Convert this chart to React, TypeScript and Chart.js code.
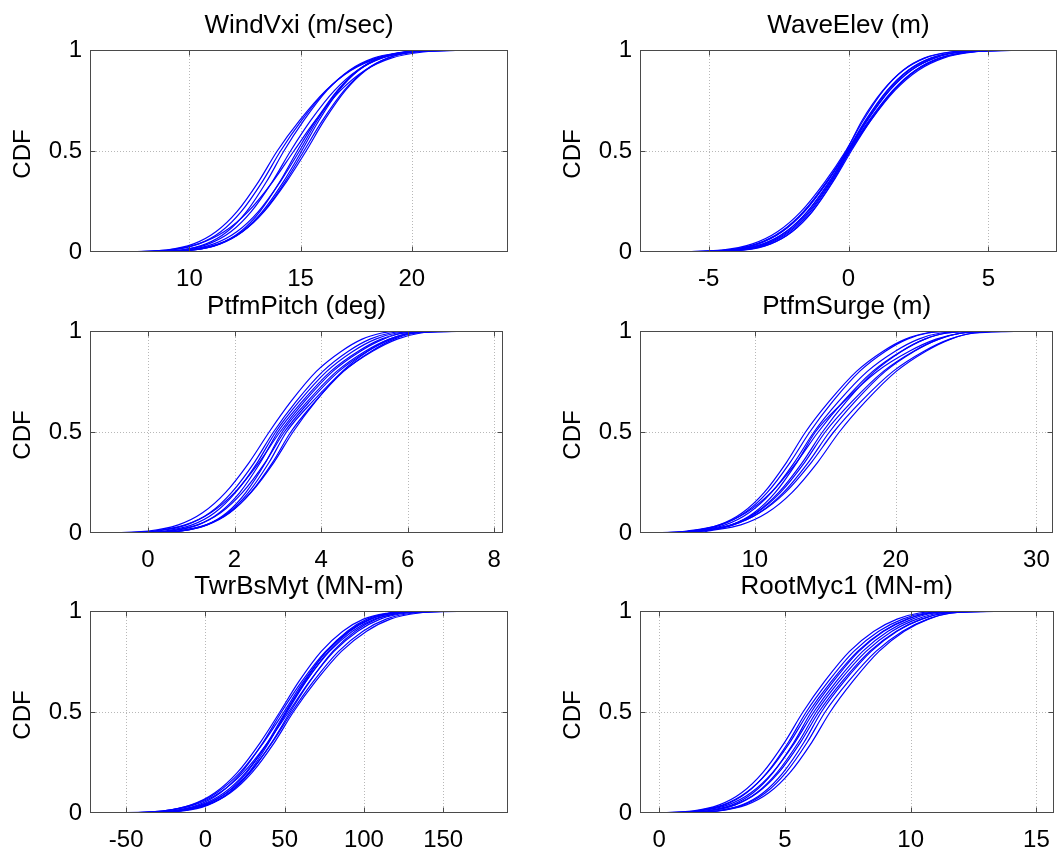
import React, { useEffect, useRef } from "react";
import { Chart, registerables } from "chart.js";

Chart.register(...registerables);

// CDF probability levels at which each curve's x value (quantile) was read
const CDF_LEVELS = [0, 0.01, 0.04, 0.1, 0.2, 0.35, 0.5, 0.65, 0.8, 0.9, 0.96, 0.99, 1];
const Y_TICKS = [0, 0.5, 1];

// WindVxi (m/sec)
const WIND_TICKS = [10, 15, 20];
const WIND_CURVES = [
  [6.6, 8.95, 10.19, 11.19, 12.14, 13.12, 13.95, 14.95, 16.14, 17.28, 18.5, 20.0, 21.5],
  [7.2, 9.22, 10.42, 11.41, 12.33, 13.29, 14.1, 15.04, 16.16, 17.24, 18.39, 19.8, 20.6],
  [7.0, 9.6, 10.75, 11.69, 12.57, 13.48, 14.25, 15.14, 16.19, 17.2, 18.28, 19.6, 20.2],
  [7.5, 9.67, 10.87, 11.86, 12.78, 13.74, 14.55, 15.45, 16.53, 17.56, 18.66, 20.02, 21.0],
  [6.2, 9.0, 10.41, 11.56, 12.64, 13.76, 14.7, 15.66, 16.8, 17.9, 19.08, 20.52, 22.3],
  [7.8, 10.2, 11.35, 12.29, 13.17, 14.08, 14.85, 15.68, 16.66, 17.61, 18.61, 19.85, 20.4],
  [7.0, 9.83, 11.1, 12.13, 13.1, 14.1, 14.95, 15.74, 16.68, 17.58, 18.54, 19.72, 23.9],
  [8.0, 10.17, 11.37, 12.36, 13.28, 14.24, 15.05, 15.82, 16.73, 17.61, 18.55, 19.7, 20.8],
  [7.4, 10.15, 11.39, 12.39, 13.34, 14.32, 15.15, 15.98, 16.96, 17.91, 18.91, 20.15, 22.8],
  [8.2, 10.02, 11.31, 12.37, 13.36, 14.38, 15.25, 16.06, 17.02, 17.94, 18.93, 20.13, 23.0],
];

// WaveElev (m)
const WAVE_TICKS = [-5, 0, 5];
const WAVE_CURVES = [
  [-7.4, -4.35, -3.29, -2.42, -1.61, -0.76, -0.05, 0.6, 1.38, 2.13, 2.93, 3.9, 5.6],
  [-6.2, -4.27, -3.23, -2.39, -1.6, -0.77, -0.08, 0.48, 1.23, 1.96, 2.73, 3.68, 5.2],
  [-5.5, -3.93, -2.96, -2.16, -1.41, -0.63, 0.02, 0.73, 1.58, 2.39, 3.26, 4.32, 6.4],
  [-5.0, -3.74, -2.79, -2.02, -1.29, -0.54, 0.1, 0.79, 1.62, 2.41, 3.25, 4.29, 5.3],
  [-6.8, -4.52, -3.43, -2.54, -1.7, -0.83, -0.1, 0.52, 1.25, 1.95, 2.7, 3.62, 5.0],
  [-5.8, -4.07, -3.06, -2.24, -1.47, -0.67, 0.0, 0.67, 1.47, 2.24, 3.06, 4.07, 7.4],
  [-6.5, -3.86, -2.89, -2.1, -1.36, -0.6, 0.05, 0.76, 1.61, 2.42, 3.29, 4.35, 6.0],
  [-5.3, -4.02, -3.03, -2.23, -1.47, -0.68, -0.02, 0.63, 1.41, 2.16, 2.96, 3.93, 5.5],
  [-7.0, -4.27, -3.23, -2.37, -1.57, -0.74, -0.04, 0.65, 1.46, 2.24, 3.08, 4.1, 6.8],
  [-6.0, -3.71, -2.78, -2.02, -1.3, -0.56, 0.06, 0.79, 1.66, 2.5, 3.39, 4.48, 5.8],
];

// PtfmPitch (deg)
const PITCH_TICKS = [0, 2, 4, 6, 8];
const PITCH_CURVES = [
  [-1.3, 0.01, 0.7, 1.26, 1.79, 2.34, 2.8, 3.3, 3.89, 4.47, 4.95, 5.4, 5.7],
  [-0.8, 0.23, 0.89, 1.43, 1.93, 2.46, 2.9, 3.42, 4.04, 4.63, 5.13, 5.6, 6.2],
  [-0.5, 0.39, 1.02, 1.54, 2.02, 2.53, 2.95, 3.49, 4.13, 4.74, 5.26, 5.75, 6.6],
  [0.0, 0.56, 1.16, 1.65, 2.12, 2.6, 3.0, 3.56, 4.22, 4.86, 5.39, 5.9, 7.0],
  [-1.0, 0.14, 0.86, 1.45, 2.0, 2.57, 3.05, 3.61, 4.27, 4.91, 5.44, 5.95, 8.1],
  [0.2, 0.77, 1.35, 1.82, 2.26, 2.72, 3.1, 3.68, 4.36, 5.02, 5.58, 6.1, 7.3],
  [-0.3, 0.48, 1.14, 1.68, 2.18, 2.71, 3.15, 3.73, 4.41, 5.07, 5.63, 6.15, 7.8],
  [0.1, 0.76, 1.36, 1.85, 2.32, 2.8, 3.2, 3.8, 4.51, 5.19, 5.76, 6.3, 6.9],
  [-0.6, 0.74, 1.37, 1.89, 2.37, 2.88, 3.3, 3.86, 4.52, 5.16, 5.69, 6.2, 7.5],
  [0.15, 0.68, 1.34, 1.88, 2.38, 2.91, 3.35, 3.87, 4.49, 5.08, 5.58, 6.05, 6.5],
];

// PtfmSurge (m)
const SURGE_TICKS = [10, 20, 30];
const SURGE_CURVES = [
  [1.9, 5.46, 7.47, 9.11, 10.65, 12.25, 13.6, 15.26, 17.22, 19.11, 20.7, 22.2, 23.5],
  [3.0, 5.53, 7.6, 9.28, 10.87, 12.51, 13.9, 15.52, 17.44, 19.28, 20.83, 22.3, 24.2],
  [4.5, 5.83, 7.9, 9.58, 11.17, 12.81, 14.2, 15.93, 17.99, 19.97, 21.63, 23.2, 26.0],
  [2.5, 5.2, 7.5, 9.37, 11.13, 12.96, 14.5, 16.27, 18.37, 20.4, 22.09, 23.7, 27.5],
  [5.0, 6.19, 8.32, 10.06, 11.68, 13.38, 14.8, 16.49, 18.5, 20.44, 22.06, 23.6, 25.0],
  [3.5, 6.16, 8.35, 10.13, 11.8, 13.54, 15.0, 16.89, 19.13, 21.28, 23.09, 24.8, 28.6],
  [5.5, 6.23, 8.47, 10.3, 12.02, 13.8, 15.3, 17.11, 19.26, 21.33, 23.06, 24.7, 26.5],
  [4.0, 6.06, 8.42, 10.34, 12.15, 14.02, 15.6, 17.53, 19.81, 22.01, 23.85, 25.6, 31.0],
  [6.0, 6.7, 9.0, 10.87, 12.63, 14.46, 16.0, 17.85, 20.04, 22.15, 23.92, 25.6, 29.5],
  [4.8, 6.39, 8.35, 9.94, 11.44, 12.99, 14.3, 16.3, 18.68, 20.97, 22.88, 24.7, 27.0],
];

// TwrBsMyt (MN-m)
const TWR_TICKS = [-50, 0, 50, 100, 150];
const TWR_CURVES = [
  [-72, -27.4, -9.0, 6.0, 20.1, 34.7, 47, 58.9, 73.1, 86.7, 99.7, 115.2, 128],
  [-55, -21.8, -4.5, 9.5, 22.7, 36.4, 48, 60.7, 75.8, 90.3, 104.1, 120.6, 140],
  [-60, -27.3, -8.3, 7.2, 21.7, 36.8, 49.5, 61.8, 76.4, 90.5, 103.9, 119.9, 150],
  [-45, -17.0, -0.3, 13.3, 26.1, 39.3, 50.5, 63.2, 78.3, 92.8, 106.6, 123.1, 135],
  [-65, -20.6, -2.8, 11.8, 25.4, 39.6, 51.5, 63.4, 77.6, 91.2, 104.2, 119.7, 175],
  [-50, -26.6, -7.0, 8.9, 23.9, 39.4, 52.5, 65.6, 81.1, 96.1, 110.3, 127.3, 160],
  [-40, -16.3, 1.0, 15.0, 28.2, 41.9, 53.5, 65.8, 80.4, 94.5, 107.9, 123.9, 145],
  [-58, -19.9, -1.5, 13.5, 27.6, 42.2, 54.5, 68.0, 84.0, 99.4, 114.0, 131.5, 170],
  [-42, -16.6, 1.2, 15.8, 29.4, 43.6, 55.5, 69.4, 85.8, 101.7, 116.7, 134.7, 155],
  [-48, -14.1, 2.0, 15.1, 27.4, 40.2, 51, 62.6, 76.3, 89.5, 102.0, 117.0, 132],
];

// RootMyc1 (MN-m)
const ROOT_TICKS = [0, 5, 10, 15];
const ROOT_CURVES = [
  [-0.7, 1.3, 2.39, 3.28, 4.12, 4.99, 5.72, 6.57, 7.57, 8.54, 9.46, 10.34, 11.6],
  [0.0, 1.55, 2.61, 3.48, 4.29, 5.14, 5.85, 6.72, 7.74, 8.73, 9.68, 10.58, 12.2],
  [-0.3, 1.41, 2.54, 3.45, 4.31, 5.2, 5.95, 6.84, 7.89, 8.9, 9.86, 10.78, 13.0],
  [0.4, 1.86, 2.9, 3.74, 4.53, 5.36, 6.05, 6.92, 7.94, 8.93, 9.88, 10.78, 12.5],
  [0.2, 1.61, 2.74, 3.65, 4.51, 5.4, 6.15, 7.04, 8.09, 9.1, 10.06, 10.98, 15.2],
  [0.6, 1.95, 3.01, 3.88, 4.69, 5.54, 6.25, 7.15, 8.23, 9.26, 10.25, 11.19, 13.8],
  [-0.2, 1.93, 3.02, 3.91, 4.75, 5.62, 6.35, 7.27, 8.37, 9.43, 10.43, 11.39, 14.5],
  [0.8, 2.26, 3.3, 4.14, 4.93, 5.76, 6.45, 7.35, 8.43, 9.46, 10.45, 11.39, 12.8],
  [0.5, 2.3, 3.36, 4.23, 5.04, 5.89, 6.6, 7.52, 8.62, 9.68, 10.68, 11.64, 14.0],
  [0.7, 2.38, 3.47, 4.36, 5.2, 6.07, 6.8, 7.69, 8.74, 9.75, 10.71, 11.63, 13.3],
];

const FONT = "'Liberation Sans', Arial, Helvetica, sans-serif";
const PAD_L = 90;
const PAD_T = 50;
const PAD_R = 6;
const PAD_B = 45;
const PLOT_H = 202;

type PanelSpec = {
  title: string;
  curves: number[][];
  ticks: number[];
  xMin: number;
  xMax: number;
  left: number;
  top: number;
  width: number;
};

const PANELS: PanelSpec[] = [
  { title: "WindVxi (m/sec)", curves: WIND_CURVES, ticks: WIND_TICKS, xMin: 5.53, xMax: 24.33, left: 90, top: 50, width: 418 },
  { title: "WaveElev (m)", curves: WAVE_CURVES, ticks: WAVE_TICKS, xMin: -7.45, xMax: 7.45, left: 640, top: 50, width: 417 },
  { title: "PtfmPitch (deg)", curves: PITCH_CURVES, ticks: PITCH_TICKS, xMin: -1.34, xMax: 8.21, left: 90, top: 331, width: 418 },
  { title: "PtfmSurge (m)", curves: SURGE_CURVES, ticks: SURGE_TICKS, xMin: 1.84, xMax: 31.2, left: 640, top: 331, width: 417 },
  { title: "TwrBsMyt (MN-m)", curves: TWR_CURVES, ticks: TWR_TICKS, xMin: -72.8, xMax: 190.9, left: 90, top: 611, width: 418 },
  { title: "RootMyc1 (MN-m)", curves: ROOT_CURVES, ticks: ROOT_TICKS, xMin: -0.76, xMax: 15.68, left: 640, top: 611, width: 417 },
];

const framePlugin = {
  id: "matlabFrame",
  beforeDatasetsDraw(chart: any) {
    const { ctx, chartArea: a, scales } = chart;
    const x = scales.x;
    const y = scales.y;
    ctx.save();
    ctx.strokeStyle = "#b8b8b8";
    ctx.lineWidth = 1;
    ctx.setLineDash([1, 2]);
    ctx.beginPath();
    for (const t of x.ticks) {
      const px = Math.round(x.getPixelForValue(t.value)) + 0.5;
      if (px > a.left + 1 && px < a.right - 1) {
        ctx.moveTo(px, a.top);
        ctx.lineTo(px, a.bottom);
      }
    }
    for (const t of y.ticks) {
      const py = Math.round(y.getPixelForValue(t.value)) + 0.5;
      if (py > a.top + 1 && py < a.bottom - 1) {
        ctx.moveTo(a.left, py);
        ctx.lineTo(a.right, py);
      }
    }
    ctx.stroke();
    ctx.restore();
  },
  afterDatasetsDraw(chart: any) {
    const { ctx, chartArea: a, scales } = chart;
    const x = scales.x;
    const y = scales.y;
    const l = Math.round(a.left) + 0.5;
    const r = Math.round(a.right) - 0.5;
    const t = Math.round(a.top) + 0.5;
    const b = Math.round(a.bottom) - 0.5;
    ctx.save();
    ctx.strokeStyle = "#4a4a4a";
    ctx.lineWidth = 1;
    ctx.setLineDash([]);
    ctx.strokeRect(l, t, r - l, b - t);
    const tl = 5;
    ctx.beginPath();
    for (const tk of x.ticks) {
      const px = Math.round(x.getPixelForValue(tk.value)) + 0.5;
      if (px > a.left + 1 && px < a.right - 1) {
        ctx.moveTo(px, b);
        ctx.lineTo(px, b - tl);
        ctx.moveTo(px, t);
        ctx.lineTo(px, t + tl);
      }
    }
    for (const tk of y.ticks) {
      const py = Math.round(y.getPixelForValue(tk.value)) + 0.5;
      if (py > a.top + 1 && py < a.bottom - 1) {
        ctx.moveTo(l, py);
        ctx.lineTo(l + tl, py);
        ctx.moveTo(r, py);
        ctx.lineTo(r - tl, py);
      }
    }
    ctx.stroke();
    ctx.restore();
  },
  afterDraw(chart: any, _args: any, opts: any) {
    const { ctx, chartArea: a } = chart;
    ctx.save();
    ctx.fillStyle = "#000";
    ctx.font = `26px ${FONT}`;
    ctx.textAlign = "center";
    ctx.textBaseline = "alphabetic";
    ctx.fillText(opts.title || "", (a.left + a.right) / 2, a.top - 17.5);
    ctx.font = `24px ${FONT}`;
    ctx.textBaseline = "middle";
    ctx.translate(23.5, (a.top + a.bottom) / 2 + 3);
    ctx.rotate(-Math.PI / 2);
    ctx.fillText(opts.ylabel || "", 0, 0);
    ctx.restore();
  },
};

function Panel({ spec }: { spec: PanelSpec }) {
  const ref = useRef<HTMLCanvasElement>(null);
  const cw = PAD_L + spec.width + PAD_R;
  const ch = PAD_T + PLOT_H + PAD_B;

  useEffect(() => {
    if (!ref.current) return;
    const tickFont = { family: FONT, size: 24 };
    const chart = new Chart(ref.current, {
      type: "line",
      data: {
        datasets: spec.curves.map((xs) => ({
          data: xs.map((v, i) => ({ x: v, y: CDF_LEVELS[i] })),
          borderColor: "#0000ff",
          borderWidth: 1.2,
          pointRadius: 0,
          pointHoverRadius: 0,
          fill: false,
          cubicInterpolationMode: "monotone" as const,
        })),
      },
      options: {
        animation: false,
        responsive: false,
        maintainAspectRatio: false,
        devicePixelRatio: 1,
        events: [],
        layout: { padding: { top: PAD_T, right: PAD_R, left: 0, bottom: 0 } },
        plugins: {
          legend: { display: false },
          title: { display: false },
          tooltip: { enabled: false },
          matlabFrame: { title: spec.title, ylabel: "CDF" },
        } as any,
        scales: {
          x: {
            type: "linear",
            min: spec.xMin,
            max: spec.xMax,
            afterBuildTicks: (s: any) => {
              s.ticks = spec.ticks.map((v) => ({ value: v }));
            },
            afterFit: (s: any) => {
              s.height = PAD_B;
            },
            grid: { display: false, drawTicks: false },
            border: { display: false },
            ticks: {
              padding: 13,
              color: "#000",
              font: tickFont,
              maxRotation: 0,
              minRotation: 0,
              autoSkip: false,
              callback: (v: any) => String(v),
            },
          },
          y: {
            type: "linear",
            min: 0,
            max: 1,
            afterBuildTicks: (s: any) => {
              s.ticks = Y_TICKS.map((v) => ({ value: v }));
            },
            afterFit: (s: any) => {
              s.width = PAD_L;
            },
            grid: { display: false, drawTicks: false },
            border: { display: false },
            ticks: {
              padding: 8,
              color: "#000",
              font: tickFont,
              autoSkip: false,
              callback: (v: any) => String(v),
            },
          },
        },
      },
      plugins: [framePlugin],
    } as any);
    return () => chart.destroy();
  }, [spec]);

  return (
    <canvas
      ref={ref}
      width={cw}
      height={ch}
      style={{
        position: "absolute",
        left: spec.left - PAD_L,
        top: spec.top - PAD_T,
        width: cw,
        height: ch,
      }}
    />
  );
}

export default function App() {
  return (
    <div
      style={{
        position: "absolute",
        left: 0,
        top: 0,
        width: 1057,
        height: 850,
        overflow: "hidden",
        background: "#fff",
      }}
    >
      {PANELS.map((p) => (
        <Panel key={p.title} spec={p} />
      ))}
    </div>
  );
}
